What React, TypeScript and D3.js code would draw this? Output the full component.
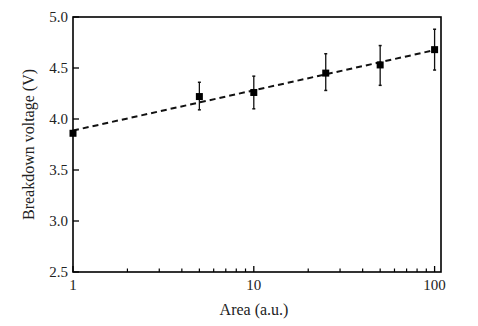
import React from "react";
import * as d3 from "d3";

const areas = [1, 5, 10, 25, 50, 100];
const voltages = [3.86, 4.22, 4.26, 4.45, 4.53, 4.68];
const errLow = [3.86, 4.09, 4.1, 4.28, 4.33, 4.48];
const errHigh = [3.86, 4.36, 4.42, 4.64, 4.72, 4.88];
const yTicks = [2.5, 3.0, 3.5, 4.0, 4.5, 5.0];
const xMajor = [1, 10, 100];
const xMinor = [2, 3, 4, 5, 6, 7, 8, 9, 20, 30, 40, 50, 60, 70, 80, 90];

const W = 478;
const H = 326;
const M = { left: 73, right: 441, top: 17, bottom: 272 };
const font = "'Liberation Serif', 'Times New Roman', serif";

export default function App() {
  const x = d3.scaleLog().domain([1, 108.5]).range([M.left, M.right]);
  const y = d3.scaleLinear().domain([2.5, 5.0]).range([M.bottom, M.top]);

  // least-squares fit in log(x)
  const lx = areas.map((a) => Math.log10(a));
  const mx = d3.mean(lx) as number;
  const my = d3.mean(voltages) as number;
  const slope =
    d3.sum(lx, (v, i) => (v - mx) * (voltages[i] - my)) /
    d3.sum(lx, (v) => (v - mx) * (v - mx));
  const icpt = my - slope * mx;
  const fit = [1, 100].map((a) => [a, icpt + slope * Math.log10(a)] as [number, number]);
  const line = d3
    .line<[number, number]>()
    .x((d) => x(d[0]))
    .y((d) => y(d[1]));

  return (
    <svg
      width={W}
      height={H}
      style={{ position: "absolute", left: 0, top: 0, background: "#fff" }}
    >
      <rect
        x={M.left}
        y={M.top}
        width={M.right - M.left}
        height={M.bottom - M.top}
        fill="none"
        stroke="#000"
        strokeWidth={1.6}
      />
      {yTicks.map((t) => (
        <g key={t}>
          <line x1={M.left} x2={M.left + 6} y1={y(t)} y2={y(t)} stroke="#000" strokeWidth={1.3} />
          <text
            x={M.left - 5}
            y={y(t)}
            dy="0.33em"
            textAnchor="end"
            fontFamily={font}
            fontSize={15}
            fill="#222"
          >
            {t.toFixed(1)}
          </text>
        </g>
      ))}
      {xMajor.map((t) => (
        <g key={t}>
          <line x1={x(t)} x2={x(t)} y1={M.bottom} y2={M.bottom - 6} stroke="#000" strokeWidth={1.3} />
          <text
            x={x(t)}
            y={M.bottom + 18}
            textAnchor="middle"
            fontFamily={font}
            fontSize={15}
            fill="#222"
          >
            {t}
          </text>
        </g>
      ))}
      {xMinor.map((t) => (
        <line key={t} x1={x(t)} x2={x(t)} y1={M.bottom} y2={M.bottom - 3.5} stroke="#000" strokeWidth={1.2} />
      ))}
      <path
        d={line(fit) as string}
        fill="none"
        stroke="#111"
        strokeWidth={2}
        strokeDasharray="6,4"
      />
      {areas.map((a, i) => (
        <g key={a}>
          {errHigh[i] > errLow[i] && (
            <g stroke="#111">
              <line x1={x(a)} x2={x(a)} y1={y(errLow[i])} y2={y(errHigh[i])} strokeWidth={1.3} />
              <line x1={x(a) - 1.5} x2={x(a) + 1.5} y1={y(errLow[i])} y2={y(errLow[i])} strokeWidth={1.5} />
              <line x1={x(a) - 1.5} x2={x(a) + 1.5} y1={y(errHigh[i])} y2={y(errHigh[i])} strokeWidth={1.5} />
            </g>
          )}
          <rect x={x(a) - 3.5} y={y(voltages[i]) - 3.5} width={7} height={7} fill="#000" />
        </g>
      ))}
      <text
        x={(M.left + M.right) / 2 - 3}
        y={315}
        textAnchor="middle"
        fontFamily={font}
        fontSize={16}
        fill="#222"
      >
        Area (a.u.)
      </text>
      <text
        transform={`translate(34, ${(M.top + M.bottom) / 2}) rotate(-90)`}
        textAnchor="middle"
        fontFamily={font}
        fontSize={16}
        fill="#222"
      >
        Breakdown voltage (V)
      </text>
    </svg>
  );
}
